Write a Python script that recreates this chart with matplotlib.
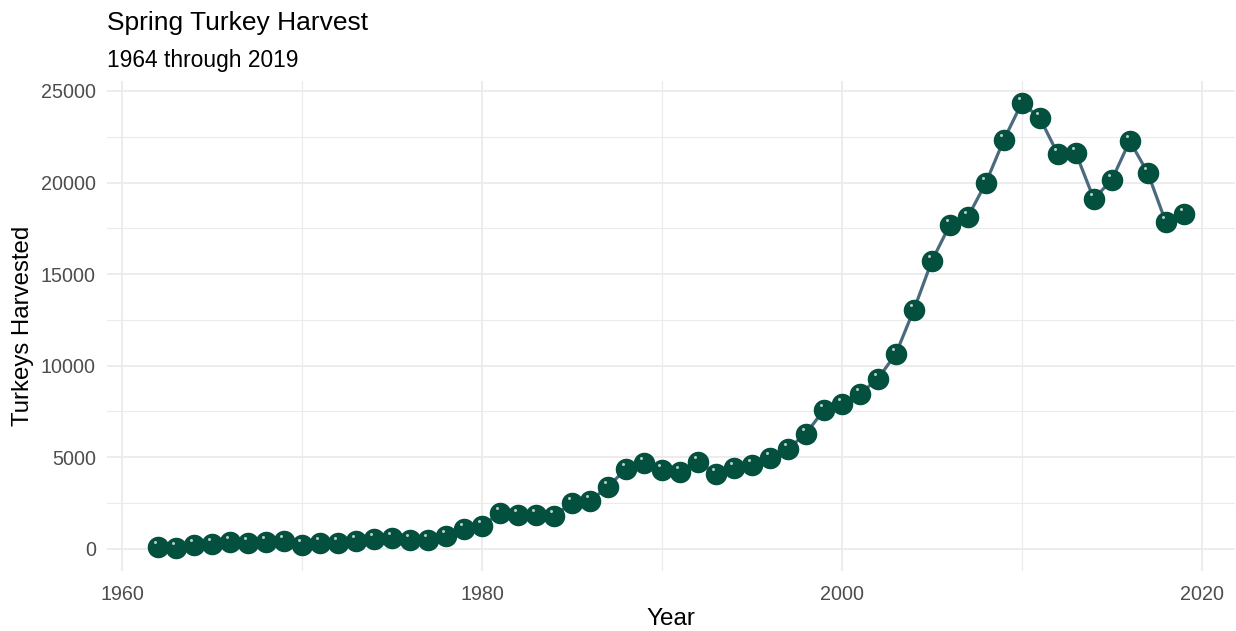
import matplotlib
matplotlib.use("Agg")
import matplotlib.pyplot as plt
import matplotlib.transforms as mtransforms
from matplotlib.ticker import MultipleLocator

years = list(range(1962, 2020))
harvest = [100, 50, 200, 270, 380, 330, 380, 430, 200, 330,
           330, 430, 550, 600, 490, 490, 700, 1090, 1250, 1970,
           1860, 1860, 1800, 2500, 2620, 3385, 4370, 4690, 4310, 4200,
           4750, 4090, 4420, 4590, 4970, 5460, 6280, 7590, 7920, 8460,
           9280, 10650, 13050, 15720, 17690, 18120, 19980, 22330, 24350, 23530,
           21560, 21620, 19110, 20140, 22270, 20530, 17850, 18290]

title = "Spring Turkey Harvest"
subtitle = "1964 through 2019"
xlabel = "Year"
ylabel = "Turkeys Harvested"

plt.rcParams['font.family'] = ['Liberation Sans', 'DejaVu Sans']

W, H = 1236, 631
fig = plt.figure(figsize=(W / 100, H / 100), dpi=100)
left, right, top, bottom = 107, 1235, 80.6, 571
ax = fig.add_axes([left / W, (H - bottom) / H, (right - left) / W, (bottom - top) / H])

ax.plot(years, harvest, color="#4B6A80", linewidth=2.3, zorder=3)
ax.plot(years, harvest, linestyle="none", marker="o", markersize=14.5,
        markerfacecolor="#03503F", markeredgecolor="#03503F", zorder=4)
hl = mtransforms.offset_copy(ax.transData, fig=fig, x=-3, y=5, units="dots")
ax.plot(years, harvest, linestyle="none", marker="o", markersize=2.2,
        markerfacecolor="white", markeredgecolor="none", alpha=0.7,
        transform=hl, zorder=5)

xr = max(years) - min(years)
ax.set_xlim(min(years) - 0.05 * xr, max(years) + 0.05 * xr)
yr = max(harvest) - 0
ax.set_ylim(0 - 0.05 * yr, max(harvest) + 0.05 * yr)

ax.xaxis.set_minor_locator(MultipleLocator(10))
ax.yaxis.set_minor_locator(MultipleLocator(2500))
ax.set_xticks([1960, 1980, 2000, 2020])
ax.set_yticks([0, 5000, 10000, 15000, 20000, 25000])

ax.grid(which="major", color="#EBEBEB", linewidth=1.3)
ax.grid(which="minor", color="#EBEBEB", linewidth=0.8)
ax.set_axisbelow(True)
for s in ax.spines.values():
    s.set_visible(False)
ax.tick_params(which="both", length=0)
ax.tick_params(axis="both", labelsize=14.2, labelcolor="#4D4D4D")
ax.tick_params(axis="x", pad=10)
ax.tick_params(axis="y", pad=8)

ax.set_xlabel(xlabel, fontsize=17.5, color="black", labelpad=3)
ax.set_ylabel(ylabel, fontsize=17.3, color="black", labelpad=5)

fig.text(left / W, 1 - 30 / H, title, fontsize=19, ha="left", va="baseline")
fig.text(left / W, 1 - 67 / H, subtitle, fontsize=16.4, ha="left", va="baseline")

fig.savefig("out.png", dpi=100)
